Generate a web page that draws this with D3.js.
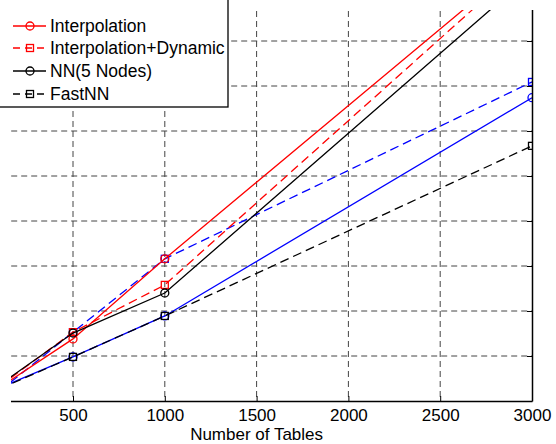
<!DOCTYPE html>
<html>
<head>
<meta charset="utf-8">
<script src="https://cdn.jsdelivr.net/npm/d3@7"></script>
<style>
  body { margin: 0; background: #fff; }
  svg { display: block; font-family: "Liberation Sans", Arial, sans-serif; }
</style>
</head>
<body>
<svg id="chart" width="556" height="444"></svg>
<script>
// data (y in grid units, one unit per grid line)
var tables = [100, 500, 1000, 3000];
var xTicks = [500, 1000, 1500, 2000, 2500, 3000];
var yTicks = [1, 2, 3, 4, 5, 6, 7, 8, 9];

var linearVals      = [0.29, 0.98, 1.89, 6.74];
var linearDynVals   = [0.22, 1.53, 3.16, 7.09];
var interpVals      = [0.30, 1.38, 3.16, 9.97];
var interpDynVals   = [0.33, 1.53, 2.58, 9.88];
var nnVals          = [0.36, 1.51, 2.40, 9.50];
var fastNNVals      = [0.27, 0.98, 1.89, 5.67];

var seriesNames = ["", "", "Interpolation", "Interpolation+Dynamic", "NN(5 Nodes)", "FastNN"];

function makeSeries(name, vals, color, dashed, marker, inLegend) {
	return {name: name, color: color, dashed: dashed, marker: marker, legend: inLegend,
		pts: tables.map(function(t, i) { return {x: t, y: vals[i]}; })};
}

var series = [
	makeSeries(seriesNames[0], linearVals, "#0000ff", false, "o", false),
	makeSeries(seriesNames[1], linearDynVals, "#0000ff", true, "s", false),
	makeSeries(seriesNames[2], interpVals, "#ff0000", false, "o", true),
	makeSeries(seriesNames[3], interpDynVals, "#ff0000", true, "s", true),
	makeSeries(seriesNames[4], nnVals, "#000000", false, "o", true),
	makeSeries(seriesNames[5], fastNNVals, "#000000", true, "s", true)
];

var svg = d3.select("#chart");
var pLeft = -18.8, pRight = 532, pTop = -49, pBottom = 401;

var x = d3.scaleLinear().domain([0, 3000]).range([pLeft, pRight]);
var y = d3.scaleLinear().domain([0, 10]).range([pBottom, pTop]);

svg.append("defs").append("clipPath").attr("id", "plotClip")
	.append("rect").attr("x", pLeft).attr("y", pTop)
	.attr("width", pRight - pLeft).attr("height", pBottom - pTop);

// grid
var grid = svg.append("g");
grid.selectAll("line.vg").data(xTicks.slice(0, -1)).enter().append("line")
	.attr("x1", d => x(d)).attr("x2", d => x(d))
	.attr("y1", pTop).attr("y2", pBottom)
	.attr("stroke", "#444").attr("stroke-width", 1).attr("stroke-dasharray", "6,4");
grid.selectAll("line.hg").data(yTicks).enter().append("line")
	.attr("x1", pLeft).attr("x2", pRight)
	.attr("y1", d => y(d)).attr("y2", d => y(d))
	.attr("stroke", "#444").attr("stroke-width", 1).attr("stroke-dasharray", "6,4");

// lines and markers
var line = d3.line().x(d => x(d.x)).y(d => y(d.y));
var plot = svg.append("g").attr("clip-path", "url(#plotClip)");

function drawMarker(g, kind, cx, cy, color) {
	if (kind == "o") {
		g.append("circle").attr("cx", cx).attr("cy", cy).attr("r", 4)
			.attr("fill", "none").attr("stroke", color).attr("stroke-width", 1.3);
	} else {
		g.append("rect").attr("x", cx - 3.5).attr("y", cy - 3.5).attr("width", 7).attr("height", 7)
			.attr("fill", "none").attr("stroke", color).attr("stroke-width", 1.3);
	}
}

series.forEach(function(s) {
	plot.append("path").datum(s.pts)
		.attr("fill", "none")
		.attr("stroke", s.color)
		.attr("stroke-width", 1.3)
		.attr("stroke-dasharray", s.dashed ? "9,5" : null)
		.attr("d", line);
	s.pts.forEach(function(p) {
		drawMarker(plot, s.marker, x(p.x), y(p.y), s.color);
	});
});

// axes box (bottom and right), ticks inward
var xAxis = svg.append("g").attr("transform", "translate(0," + pBottom + ")")
	.call(d3.axisBottom(x).tickValues(xTicks).tickFormat(d3.format("d"))
		.tickSizeInner(-5).tickSizeOuter(0).tickPadding(8));
xAxis.select(".domain").attr("stroke-width", 1.5);
xAxis.selectAll("text").attr("font-size", "17px").attr("font-family", "Liberation Sans, Arial, sans-serif").attr("fill", "#000");

var yAxis = svg.append("g").attr("transform", "translate(" + pRight + ",0)")
	.call(d3.axisRight(y).tickValues(yTicks).tickSizeInner(-5).tickSizeOuter(0).tickFormat(""));
yAxis.select(".domain").attr("stroke-width", 1.5);

// the picture is cut off on the left and along the top
svg.append("rect").attr("x", 0).attr("y", 0).attr("width", 556).attr("height", 10).attr("fill", "#fff");
svg.append("rect").attr("x", 0).attr("y", 0).attr("width", 11).attr("height", 444).attr("fill", "#fff");

// x label
svg.append("text")
	.attr("x", (pLeft + pRight) / 2).attr("y", 440)
	.attr("text-anchor", "middle").attr("font-size", "17px")
	.text("Number of Tables");

// legend
var legend = svg.append("g");
legend.append("rect").attr("x", -20).attr("y", -60).attr("width", 248).attr("height", 167)
	.attr("fill", "#fff").attr("stroke", "#000").attr("stroke-width", 1.3);
var entryY = [26, 48, 71, 94];
series.filter(s => s.legend).forEach(function(s, i) {
	var ly = entryY[i];
	legend.append("line").attr("x1", 13).attr("x2", 46).attr("y1", ly).attr("y2", ly)
		.attr("stroke", s.color).attr("stroke-width", 1.3)
		.attr("stroke-dasharray", s.dashed ? "7,5" : null);
	drawMarker(legend, s.marker, 30, ly, s.color);
	legend.append("text").attr("x", 50).attr("y", ly).attr("dy", "0.35em")
		.attr("font-size", "17.5px").text(s.name);
});
</script>
</body>
</html>
